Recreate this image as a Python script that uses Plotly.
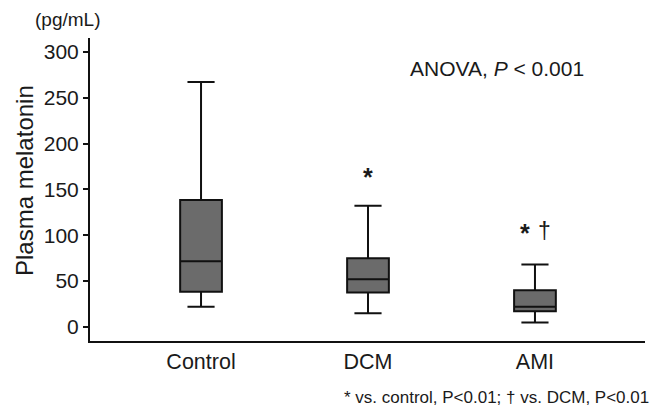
import plotly.graph_objects as go

categories = ["Control", "DCM", "AMI"]
lower_whisker = [22, 15, 5]
q1 = [38.5, 37.5, 17]
median = [71.5, 52, 22]
q3 = [138.5, 75, 40]
upper_whisker = [267, 132, 68]
y_ticks = [0, 50, 100, 150, 200, 250, 300]

FONT = "Arial, Liberation Sans, sans-serif"

W, H = 652, 410
L, R, T, B = 90, 7, 38, 69
pw, ph = W - L - R, H - T - B


def px(xp):
    return (xp - L) / pw


def py(yp):
    return (H - B - yp) / ph


fig = go.Figure()
fig.add_trace(go.Box(
    x=categories,
    q1=q1, median=median, q3=q3,
    lowerfence=lower_whisker, upperfence=upper_whisker,
    fillcolor="#6b6b6b",
    line=dict(color="#111111", width=2),
    width=0.25,
    whiskerwidth=0.65,
    boxpoints=False,
    showlegend=False,
    hoverinfo="skip",
))

fig.update_layout(
    width=W, height=H,
    margin=dict(l=L, r=R, t=T, b=B),
    paper_bgcolor="white", plot_bgcolor="white",
    font=dict(family=FONT, color="#1a1a1a", size=21),
    xaxis=dict(
        type="category",
        range=[-0.665, 2.659],
        showline=True, linecolor="#111111", linewidth=2,
        ticks="", showgrid=False, zeroline=False,
        tickfont=dict(size=21.5),
    ),
    yaxis=dict(
        range=[-15.3, 315],
        tickvals=y_ticks,
        showline=True, linecolor="#111111", linewidth=2,
        ticks="outside", ticklen=5, tickwidth=2, tickcolor="#111111",
        showgrid=False, zeroline=False,
        tickfont=dict(size=21),
    ),
)

fig.add_annotation(text="Plasma melatonin", x=px(24), y=py(181), xref="paper", yref="paper",
                   textangle=-90, xanchor="center", yanchor="middle", showarrow=False,
                   font=dict(size=24))
fig.add_annotation(text="(pg/mL)", x=px(33), y=py(20), xref="paper", yref="paper",
                   xanchor="left", yanchor="middle", showarrow=False, font=dict(size=19))
fig.add_annotation(text="ANOVA, <i>P</i> < 0.001", x=px(408), y=py(68), xref="paper", yref="paper",
                   xanchor="left", yanchor="middle", showarrow=False, font=dict(size=21))
fig.add_annotation(text="<b>*</b>", x="DCM", y=164, xref="x", yref="y", yanchor="middle",
                   showarrow=False, font=dict(size=25))
fig.add_annotation(text="<b>*</b>", x=1.94, y=102, xref="x", yref="y", yanchor="middle",
                   showarrow=False, font=dict(size=25))
fig.add_annotation(text="†", x=2.055, y=105, xref="x", yref="y", yanchor="middle",
                   showarrow=False, font=dict(size=23))
fig.add_annotation(text="* vs. control, P<0.01; † vs. DCM, P<0.01", x=px(651), y=py(397),
                   xref="paper", yref="paper", xanchor="right", yanchor="middle",
                   showarrow=False, font=dict(size=17))

fig.write_html("out.html")
